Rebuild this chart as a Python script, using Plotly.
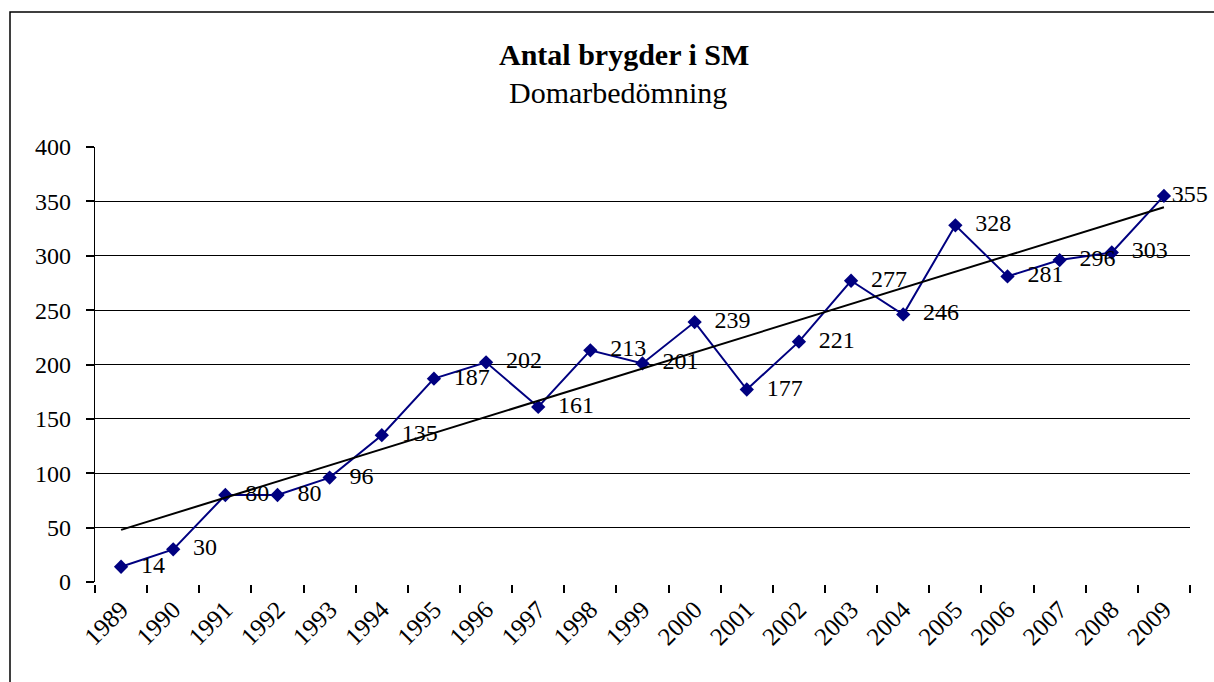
import numpy as np
import plotly.graph_objects as go

years = [str(y) for y in range(1989, 2010)]
values = [14, 30, 80, 80, 96, 135, 187, 202, 161, 213, 201, 239, 177, 221, 277, 246, 328, 281, 296, 303, 355]
y_ticks = [0, 50, 100, 150, 200, 250, 300, 350, 400]

title_text = "Antal brygder i SM"
subtitle_text = "Domarbedömning"

idx = np.arange(len(values))
slope, intercept = np.polyfit(idx, values, 1)
trend = (slope * idx + intercept).tolist()

FONT = "Liberation Serif"
W, H = 1214, 682
ML, MR, MT, MB = 95, 24, 147, 100
pw = W - ML - MR
ph = H - MT - MB

def px(x):
    return (x - ML) / pw

def py(y):
    return (H - MB - y) / ph

labels = ["\u2002" + str(v) for v in values]
labels[-1] = str(values[-1])

fig = go.Figure()
fig.add_trace(go.Scatter(
    x=years, y=values, mode="lines+markers+text",
    line=dict(color="#000080", width=2),
    marker=dict(symbol="diamond", size=11, color="#000080"),
    text=labels, textposition="middle right",
    textfont=dict(family=FONT, size=24, color="black"),
    cliponaxis=False, showlegend=False,
))
fig.add_trace(go.Scatter(
    x=years, y=trend, mode="lines",
    line=dict(color="black", width=2),
    showlegend=False, hoverinfo="skip",
))

fig.update_layout(
    width=W, height=H,
    margin=dict(l=ML, r=MR, t=MT, b=MB),
    paper_bgcolor="white", plot_bgcolor="white",
    font=dict(family=FONT, size=23, color="black"),
    xaxis=dict(
        type="category", tickson="boundaries", ticks="outside", ticklen=8,
        tickcolor="black", tickwidth=1.5, tickangle=-45, showgrid=False,
        showline=True, linecolor="white", linewidth=3,
        tickfont=dict(family=FONT, size=25, color="black"),
        range=[-0.5, len(years) - 0.5],
    ),
    yaxis=dict(
        range=[0, 400], tickvals=y_ticks, ticks="outside", ticklen=8,
        tickcolor="black", tickwidth=1.5, showgrid=True, gridcolor="black",
        gridwidth=1.3, zeroline=False, showline=True, linecolor="black",
        linewidth=1.3, ticklabelstandoff=10,
        tickfont=dict(family=FONT, size=24, color="black"),
    ),
    annotations=[
        dict(text="<b>" + title_text + "</b>", x=px(624), y=py(54), xref="paper", yref="paper",
             showarrow=False, xanchor="center", yanchor="middle",
             font=dict(family=FONT, size=30, color="black")),
        dict(text=subtitle_text, x=px(618), y=py(92), xref="paper", yref="paper",
             showarrow=False, xanchor="center", yanchor="middle",
             font=dict(family=FONT, size=30, color="black")),
    ],
    shapes=[
        dict(type="path", xref="paper", yref="paper",
             path=f"M {px(10)} {py(690)} L {px(10)} {py(12)} L {px(1220)} {py(12)}",
             line=dict(color="black", width=1.5)),
    ],
)

fig.write_html("out.html", config={"displayModeBar": False},
               post_script="document.body.style.margin='0px';document.body.style.overflow='hidden';")
